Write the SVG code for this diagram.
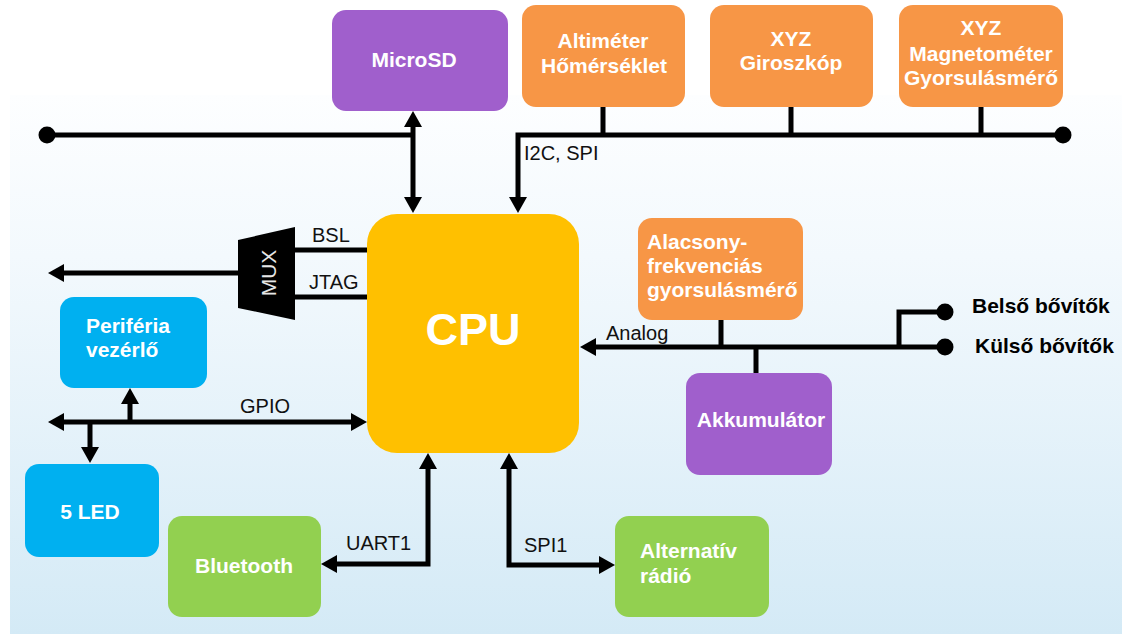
<svg xmlns="http://www.w3.org/2000/svg" width="1122" height="634" viewBox="0 0 1122 634">
<defs>
<linearGradient id="bg" x1="0" y1="0" x2="0" y2="1">
<stop offset="0" stop-color="#fdfeff"/>
<stop offset="0.3" stop-color="#f3f9fd"/>
<stop offset="1" stop-color="#d4eaf6"/>
</linearGradient>
<marker id="ah" viewBox="0 0 16 18" refX="2" refY="9" markerWidth="16" markerHeight="18" markerUnits="userSpaceOnUse" orient="auto-start-reverse">
<path d="M0,0 L16,9 L0,18 z" fill="#000"/>
</marker>
<style>
.box{rx:14px;ry:14px}
.purple{fill:#a05fcc}
.orange{fill:#f79646}
.blue{fill:#00b0f0}
.green{fill:#92d050}
.nt{font-family:"Liberation Sans",Arial,sans-serif;font-weight:bold;font-size:21px;fill:#fff}
.lb{font-family:"Liberation Sans",Arial,sans-serif;font-size:20px;fill:#111}
.bt{font-family:"Liberation Sans",Arial,sans-serif;font-weight:bold;font-size:21px;fill:#000}
.ln{fill:none;stroke:#000;stroke-width:5}
.ar{fill:none;stroke:#000;stroke-width:5;marker-end:url(#ah)}
.ar2{fill:none;stroke:#000;stroke-width:5;marker-start:url(#ah);marker-end:url(#ah)}
</style>
</defs>
<rect x="0" y="0" width="1122" height="634" fill="#ffffff"/>
<rect x="10" y="95" width="1112" height="539" fill="url(#bg)"/>

<g id="connectors">
<path class="ln" d="M47,135 H413"/>
<circle cx="47" cy="135" r="8.5"/>
<path class="ar2" d="M413,125 V199"/>
<path class="ar" d="M1063,135 H518 V199"/>
<circle cx="1063" cy="135" r="8.5"/>
<path class="ln" d="M603,107 V135 M791,107 V135 M981,107 V135"/>
<path class="ln" d="M295,250 H367 M295,297 H367"/>
<path class="ar" d="M238,273 H62"/>
<path class="ar2" d="M62,422 H353"/>
<path class="ar" d="M130,422 V402"/>
<path class="ar" d="M90,422 V449"/>
<path class="ar2" d="M335,564 H428 V467"/>
<path class="ar2" d="M509,467 V565 H601"/>
<path class="ar" d="M945,347 H594"/>
<path class="ln" d="M945,312 H899 V347"/>
<path class="ln" d="M721,320 V347 M756,347 V373"/>
<circle cx="945" cy="312" r="8.5"/>
<circle cx="945" cy="347" r="8.5"/>
<text class="lb" x="524" y="160">I2C, SPI</text>
<text class="lb" x="312" y="242">BSL</text>
<text class="lb" x="309" y="289">JTAG</text>
<text class="lb" x="240" y="413">GPIO</text>
<text class="lb" x="346" y="550">UART1</text>
<text class="lb" x="524" y="552">SPI1</text>
<text class="lb" x="606" y="340">Analog</text>
</g>

<g id="microsd">
<rect class="box purple" x="332" y="10" width="176" height="101"/>
<text class="nt" x="414" y="67" text-anchor="middle">MicroSD</text>
</g>
<g id="altimeter">
<rect class="box orange" x="522" y="5" width="163" height="102"/>
<text class="nt" x="603" y="48" text-anchor="middle">Altiméter</text>
<text class="nt" x="604" y="73" text-anchor="middle">Hőmérséklet</text>
</g>
<g id="giroszkop">
<rect class="box orange" x="710" y="5" width="163" height="102"/>
<text class="nt" x="791" y="46" text-anchor="middle">XYZ</text>
<text class="nt" x="791" y="70" text-anchor="middle">Giroszkóp</text>
</g>
<g id="magnetometer">
<rect class="box orange" x="899" y="5" width="164" height="102"/>
<text class="nt" x="981" y="35" text-anchor="middle">XYZ</text>
<text class="nt" x="981" y="61" text-anchor="middle">Magnetométer</text>
<text class="nt" x="981" y="85" text-anchor="middle">Gyorsulásmérő</text>
</g>
<g id="cpu">
<rect x="367" y="214" width="212" height="239" rx="30" ry="30" fill="#ffc000"/>
<text x="473" y="345" text-anchor="middle" font-family="Liberation Sans, Arial, sans-serif" font-weight="bold" font-size="45" fill="#fff">CPU</text>
</g>
<g id="mux">
<polygon points="238,240 295,227 295,320 238,308" fill="#000"/>
<text x="0" y="0" transform="translate(276,273) rotate(-90)" text-anchor="middle" font-family="Liberation Sans, Arial, sans-serif" font-size="21" fill="#e6e6e6">MUX</text>
</g>
<g id="periferia">
<rect class="box blue" x="60" y="297" width="147" height="91"/>
<text class="nt" x="86" y="333">Periféria</text>
<text class="nt" x="86" y="357">vezérlő</text>
</g>
<g id="led">
<rect class="box blue" x="25" y="464" width="134" height="93"/>
<text class="nt" x="90" y="519" text-anchor="middle">5 LED</text>
</g>
<g id="bluetooth">
<rect class="box green" x="168" y="516" width="153" height="101"/>
<text class="nt" x="244" y="573" text-anchor="middle">Bluetooth</text>
</g>
<g id="radio">
<rect class="box green" x="615" y="516" width="154" height="101"/>
<text class="nt" x="640" y="558">Alternatív</text>
<text class="nt" x="640" y="583">rádió</text>
</g>
<g id="alacsony">
<rect class="box orange" x="638" y="218" width="165" height="102"/>
<text class="nt" x="647" y="249">Alacsony-</text>
<text class="nt" x="647" y="273">frekvenciás</text>
<text class="nt" x="647" y="297">gyorsulásmérő</text>
</g>
<g id="akkumulator">
<rect class="box purple" x="686" y="373" width="146" height="102"/>
<text class="nt" x="761" y="427" text-anchor="middle">Akkumulátor</text>
</g>
<g id="bovitok">
<text class="bt" x="972" y="313">Belső bővítők</text>
<text class="bt" x="975" y="353">Külső bővítők</text>
</g>
</svg>
